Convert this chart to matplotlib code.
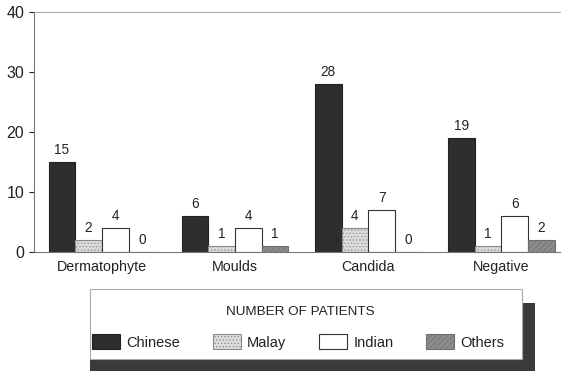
import numpy as np
import matplotlib.pyplot as plt
from matplotlib.patches import Rectangle

plt.rcParams['font.family'] = ['Liberation Sans', 'DejaVu Sans']
plt.rcParams['hatch.linewidth'] = 0.5

categories = ['Dermatophyte', 'Moulds', 'Candida', 'Negative']
chinese = [15, 6, 28, 19]
malay = [2, 1, 4, 1]
indian = [4, 4, 7, 6]
others = [0, 1, 0, 2]

series = [('Chinese', chinese, '#2e2e2e', '', '#222222'),
          ('Malay', malay, '#dcdcdc', '.....', '#8a8a8a'),
          ('Indian', indian, 'white', '', '#333333'),
          ('Others', others, '#8c8c8c', '//////', '#6e6e6e')]

txt = '#222222'

fig = plt.figure(figsize=(5.62, 3.71), dpi=100)
ax = fig.add_axes([0.0605, 0.3208, 0.936, 0.647])

x = np.arange(len(categories))
w = 0.2
handles = []
for i, (name, vals, fc, hatch, ec) in enumerate(series):
    pos = x + (i - 1.5) * w
    b = ax.bar(pos, vals, w, color=fc, hatch=hatch, edgecolor=ec, linewidth=0.8, label=name)
    handles.append(b)
    for p, v in zip(pos, vals):
        ax.text(p, v + 0.8, str(v), ha='center', va='bottom', fontsize=9.8, color=txt)

ax.set_xlim(-0.51, 3.44)
ax.set_ylim(0, 40)
ax.set_yticks([0, 10, 20, 30, 40])
ax.set_xticks(x)
ax.set_xticklabels(categories, fontsize=10.3)
ax.tick_params(axis='x', length=0, pad=6, colors=txt)
ax.tick_params(axis='y', length=3.6, width=0.8, labelsize=11.5, colors=txt, pad=3.5, direction='out')
ax.spines['right'].set_visible(False)
ax.spines['top'].set_color('#999999')
ax.spines['top'].set_linewidth(0.6)
ax.spines['left'].set_color('#777777')
ax.spines['bottom'].set_color('#777777')

# legend: dark drop shadow, white frame, title, one row of entries
fig.patches.append(Rectangle((0.160, 0.0), 0.792, 0.183, transform=fig.transFigure,
                             facecolor='#3a3a3a', edgecolor='none', zorder=0))
fig.patches.append(Rectangle((0.160, 0.032), 0.769, 0.189, transform=fig.transFigure,
                             facecolor='white', edgecolor='#aaaaaa', linewidth=0.8, zorder=1))
fig.text(0.535, 1 - 312 / 371, 'NUMBER OF PATIENTS', ha='center', va='center',
         fontsize=9.7, color=txt, zorder=3)
leg = fig.legend(handles=handles, loc='center left', ncol=4,
                 bbox_to_anchor=(92 / 562, 1 - 342 / 371), bbox_transform=fig.transFigure,
                 fontsize=10.5, frameon=False, handlelength=1.9, handleheight=1.2,
                 handletextpad=0.45, columnspacing=2.25, borderpad=0, borderaxespad=0)
for t in leg.get_texts():
    t.set_color(txt)
leg.set_zorder(3)

fig.savefig('out.png', dpi=100)
